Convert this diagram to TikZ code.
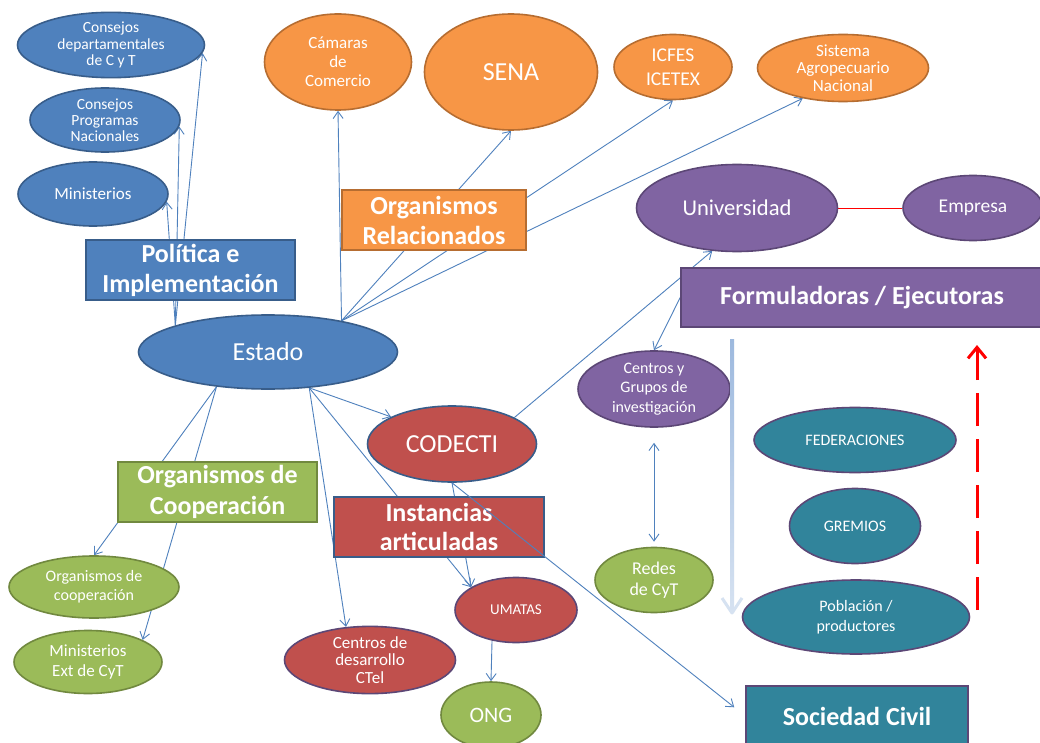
\documentclass[tikz,border=0pt]{standalone}
\usepackage{fontspec}
\setmainfont{Carlito}
\usetikzlibrary{shapes.geometric,arrows.meta,backgrounds}
\definecolor{bluefill}{HTML}{4F81BD}
\definecolor{bluedk}{HTML}{385D8A}
\definecolor{orfill}{HTML}{F79646}
\definecolor{ordk}{HTML}{B66D31}
\definecolor{pufill}{HTML}{8064A2}
\definecolor{pudk}{HTML}{5C4776}
\definecolor{grfill}{HTML}{9BBB59}
\definecolor{grdk}{HTML}{71893F}
\definecolor{refill}{HTML}{C0504D}
\definecolor{tefill}{HTML}{31849B}
\definecolor{lnblue}{HTML}{4F81BD}
\definecolor{paletop}{HTML}{9DB9DE}
\definecolor{palebot}{HTML}{D6E2F1}
\newcommand{\fz}[2]{\fontsize{#1}{#2}\selectfont}

\begin{document}
\begin{tikzpicture}[x=1pt,y=-1pt,>={Straight Barb[length=7pt,width=10pt]},
  sz/.style 2 args={minimum width=#1pt,minimum height=#2pt},
  ov/.style={ellipse,draw,line width=1.6pt,inner sep=0pt,text=white,align=center},
  ovblue/.style={ov,fill=bluefill,draw=bluedk},
  ovorange/.style={ov,fill=orfill,draw=ordk},
  ovpurple/.style={ov,fill=pufill,draw=pudk},
  ovgreen/.style={ov,fill=grfill,draw=grdk},
  ovred/.style={ov,fill=refill,draw=pudk},
  ovteal/.style={ov,fill=tefill,draw=pudk},
  tag/.style={rectangle,draw,line width=1.6pt,inner sep=0pt,text=white,align=center,font=\fz{26}{30}\bfseries},
  link/.style={->,draw=lnblue,line width=0.9pt}]
\useasboundingbox (0,0) rectangle (1040,743);

% Estado y politica
\node[ovblue,sz={187}{64},font=\fz{15.5}{16.5}] (cdep) at (111,45) {Consejos\\departamentales\\de C y T};
\node[ovblue,sz={150}{64},font=\fz{15.5}{16}] (cprog) at (105,120) {Consejos\\Programas\\Nacionales};
\node[ovblue,sz={150}{64},font=\fz{17}{20}] (mins) at (93,194) {Ministerios};
\node[tag,fill=bluefill,draw=bluedk,sz={209}{60}] (poli) at (190.5,270) {Política e\\Implementación};
\node[ovblue,sz={259}{74},font=\fz{26}{30}] (estado) at (268,352) {Estado};

% organismos relacionados
\node[ovorange,sz={147}{96},font=\fz{17}{19}] (cam) at (338,62) {Cámaras\\de\\Comercio};
\node[ovorange,sz={173}{116},font=\fz{26}{30}] (sena) at (511,72) {SENA};
\node[ovorange,sz={118}{65},font=\fz{19.5}{24}] (icfes) at (673,67) {ICFES\\ICETEX};
\node[ovorange,sz={171}{67},font=\fz{17}{17.3}] (sis) at (843,68) {Sistema\\Agropecuario\\Nacional};
\node[tag,fill=orfill,draw=ordk,sz={184}{60}] (orgrel) at (434,220) {Organismos\\Relacionados};

% formuladoras
\node[ovpurple,sz={201}{87},font=\fz{22.6}{26}] (uni) at (737,208) {Universidad};
\node[ovpurple,sz={140}{65},font=\fz{19.5}{22}] (emp) at (973,208) {Empresa};
\node[tag,fill=pufill,draw=pudk,sz={362}{59}] (form) at (862,297.5) {Formuladoras / Ejecutoras};
\node[ovpurple,sz={152}{76},font=\fz{16}{19.5}] (cyg) at (654,389) {Centros y\\Grupos de\\investigación};
\node[ovgreen,sz={118}{65},font=\fz{18}{21.5}] (redes) at (654,580) {Redes\\de CyT};

% sociedad civil
\node[ovteal,sz={202}{65},font=\fz{16}{19}] (fed) at (855,440) {FEDERACIONES};
\node[ovteal,sz={131}{75},font=\fz{16}{19}] (grem) at (855,526) {GREMIOS};
\node[ovteal,sz={227}{74},font=\fz{16}{20}] (pob) at (856,617) {Población /\\productores};
\node[tag,fill=tefill,draw=pudk,sz={222}{60}] (soc) at (857,716) {Sociedad Civil};

% cooperacion e instancias
\node[tag,fill=grfill,draw=grdk,sz={199}{60},font=\fz{26}{31}\bfseries] (orgcoop) at (217.5,492) {Organismos de\\Cooperación};
\node[ovgreen,sz={170}{62},font=\fz{16}{19.3}] (oc) at (94,587) {Organismos de\\cooperación};
\node[ovgreen,sz={148}{63},font=\fz{17}{20.7}] (mext) at (88,662) {Ministerios\\Ext de CyT};
\node[ovred,draw=bluedk,sz={169}{76},font=\fz{26}{30}] (cod) at (452,444) {CODECTI};
\node[tag,fill=refill,draw=bluedk,sz={210}{60},font=\fz{26}{29.3}\bfseries] (inst) at (439,527) {Instancias\\articuladas};
\node[ovred,sz={122}{65},font=\fz{15}{18}] (uma) at (516,610) {UMATAS};
\node[ovred,sz={171}{65},font=\fz{17}{17.8}] (cdes) at (370,660) {Centros de\\desarrollo\\CTel};
\node[ovgreen,sz={100}{66},font=\fz{22}{26}] (ong) at (491,715) {ONG};

\begin{scope}[on background layer]
  \fill[white] (0,0) rectangle (1040,743);
  \draw[link] (estado.164) -- (cdep.-5);
  \draw[link] (estado.164) -- (cprog.-5);
  \draw[link] (estado.164) -- (mins.-6);
  \draw[link] (estado.23) -- (cam.south);
  \draw[link] (estado.23) -- (sena.south);
  \draw[link] (estado.23) -- (icfes.south);
  \draw[link] (estado.23) -- (sis.217);
  \draw[link] (estado.214) -- (oc.north);
  \draw[link] (estado.214) -- (mext.22);
  \draw[link] (estado.-41) -- (cod.156);
  \draw[link] (estado.-41) -- (cdes.126);
  \draw[link] (estado.-41) -- (uma.153);
  \draw[link] (cod.south) -- (uma.153);
  \draw[link] (uma.232) -- (ong.north);
  \draw[link] (cod.23) -- (uni.240);
  \draw[link] (form.west) -- (cyg.north);
  \draw[link,<->,shorten <=15pt,shorten >=5pt] (cyg.south) -- (redes.north);
  \draw[red,line width=0.9pt] (uni.east) -- (emp.west);
\end{scope}
\draw[link,shorten >=14pt] (cod.south) -- (soc.west);

% flechas de flujo
\shade[top color=paletop,bottom color=palebot] (730,339) rectangle (734,612);
\draw[palebot,line width=3pt,line join=round] (722,598) -- (732,613) -- (742,598);
\draw[red,line width=3pt,dash pattern=on 33pt off 13pt,-{Straight Barb[length=11pt,width=18pt]}] (977,610) -- (977,345);
\end{tikzpicture}
\end{document}
